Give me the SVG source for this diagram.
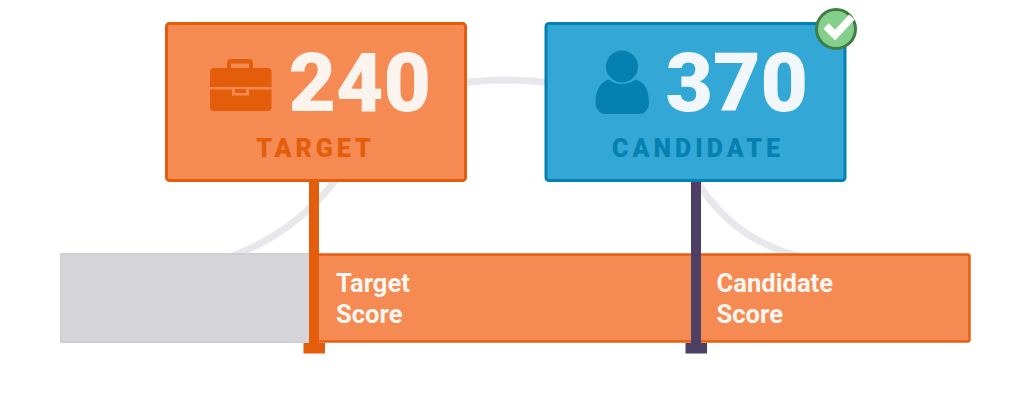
<svg xmlns="http://www.w3.org/2000/svg" width="1024" height="406" viewBox="0 0 1024 406">
<style>
text{font-family:Roboto,"Liberation Sans",sans-serif}
.num{font-size:82px;font-weight:900}
.cap{font-size:25px;font-weight:900;letter-spacing:4px;text-anchor:middle}
.lbl{font-size:25.600px;font-weight:700;fill:#fdf6f1}
</style>
<rect width="1024" height="406" fill="#fff"/>
<g id="connectors">
<path d="M225 259C270 243 310 215 337 178C370 112 420 80 505 80C590 80 650 110 690 170C715 215 750 245 805 258" fill="none" stroke="#e8e7ec" stroke-width="7"/>
</g>
<g id="bar-empty"><rect x="60" y="253" width="252" height="90" rx="2" fill="#d6d5d9"/><rect x="61" y="254" width="250" height="88" rx="1" fill="none" stroke="#d0cfd3" stroke-width="2"/></g>
<g id="bar-score"><rect x="312" y="254.500" width="657.500" height="87" rx="2" fill="#f58a52" stroke="#e65f10" stroke-width="2.500"/>
<text class="lbl" x="336" y="292">Target</text><text class="lbl" x="336" y="323">Score</text>
<text class="lbl" x="716.500" y="292">Candidate</text><text class="lbl" x="716.500" y="323">Score</text></g>
<g id="target-stem"><rect x="309" y="178" width="10" height="170" fill="#e35d0b"/><rect x="303.500" y="343" width="21.500" height="10.500" fill="#e35d0b"/></g>
<g id="candidate-stem"><rect x="691" y="178" width="10" height="170" fill="#4d3f66"/><rect x="685.500" y="343" width="21.500" height="10.500" fill="#4d3f66"/></g>
<g id="target">
<rect x="166.500" y="23.500" width="299" height="157" rx="3" fill="#f58a52" stroke="#e35d0b" stroke-width="3"/>
<path d="M227 68v-5a4 4 0 0 1 4-4h18a4 4 0 0 1 4 4v5h-4v-4.500h-18v4.500zM213.500 68h54a4 4 0 0 1 4 4v15h-61.500v-15a4 4 0 0 1 3.500-4zM210 89.500h22v6h17v-6h22.500v17.500a4 4 0 0 1-4 4h-54a4 4 0 0 1-3.500-4z" fill="#e35d0b"/>
<rect x="235" y="89" width="11" height="4" fill="#e35d0b"/>
<text class="num" x="288.500" y="111" fill="#fbf3ee">240</text>
<text class="cap" x="315.500" y="157" fill="#e35d0b">TARGET</text>
</g>
<g id="candidate">
<rect x="546" y="23.500" width="299" height="157" rx="3" fill="#33a8d6" stroke="#0580b0" stroke-width="3"/>
<circle cx="622" cy="66.500" r="16" fill="#0580b0"/>
<path d="M595.500 103c0-13 5-21 13-23.500 4 3 9 4.500 13.500 4.500s9.500-1.500 13.500-4.500c9 2.500 13.500 10.500 13.500 23.500 0 6-4 11-10 11h-33c-6 0-10.500-5-10.500-11z" fill="#0580b0"/>
<text class="num" x="665.500" y="111" fill="#f1f7fb">370</text>
<text class="cap" x="698" y="157" fill="#0580b0">CANDIDATE</text>
</g>
<g id="check">
<circle cx="836" cy="29" r="19.500" fill="#85cf8d" stroke="#3f7d43" stroke-width="3"/>
<path d="M826 26l9 9 17-18" fill="none" stroke="#fff" stroke-width="7.500"/>
</g>
</svg>
